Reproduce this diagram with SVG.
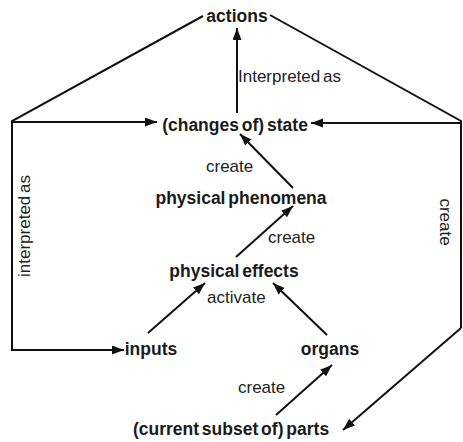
<svg xmlns="http://www.w3.org/2000/svg" width="463" height="442" viewBox="0 0 463 442">
  <defs>
    <marker id="arrow" markerUnits="userSpaceOnUse" markerWidth="13" markerHeight="10" refX="12" refY="4.5" orient="auto">
      <path d="M0,0 L12,4.5 L0,9 z" fill="#111"/>
    </marker>
    <style>
      .node { font-family: "Liberation Sans", Arial, sans-serif; font-weight: bold; font-size: 17.5px; fill: #1a1a1a; text-anchor: middle; word-spacing: -2px; }
      .label { font-family: "Liberation Sans", Arial, sans-serif; font-size: 17px; fill: #222; word-spacing: -2px; }
      .edge { fill: none; stroke: #111; stroke-width: 2; stroke-linejoin: miter; }
      .arrow { marker-end: url(#arrow); }
    </style>
  </defs>
  <rect width="463" height="442" fill="#fff"/>

  <g id="connectors">
    <!-- outer frame, left side -->
    <path class="edge" d="M203,16 L12,121 L12,350 L113,350"/>
    <path class="edge arrow" d="M12,350 L124,350"/>
    <path class="edge arrow" d="M12,122 L157,122"/>
    <!-- outer frame, right side -->
    <path class="edge" d="M270,15 L461,121 L461,328"/>
    <path class="edge arrow" d="M461,328 L343,430"/>
    <path class="edge arrow" d="M461,123 L311,123"/>
    <!-- inner chain -->
    <path class="edge arrow" d="M237,113 L237,28"/>
    <path class="edge arrow" d="M293,188 L240,134"/>
    <path class="edge arrow" d="M236,257 L293,206"/>
    <path class="edge arrow" d="M148,333 L205,283"/>
    <path class="edge arrow" d="M327,335 L273,283"/>
    <path class="edge arrow" d="M276,415 L332,365"/>
    <!-- connector labels -->
    <text class="label" x="238" y="82">Interpreted as</text>
    <text class="label" x="206" y="171.5">create</text>
    <text class="label" x="268" y="242.5">create</text>
    <text class="label" x="207" y="303">activate</text>
    <text class="label" x="238" y="393">create</text>
    <text class="label" text-anchor="middle" transform="translate(30,226) rotate(-90)">interpreted as</text>
    <text class="label" text-anchor="middle" transform="translate(440,222) rotate(90)">create</text>
  </g>

  <g id="actions"><text class="node" x="237" y="22">actions</text></g>
  <g id="state"><text class="node" x="235" y="131">(changes of) state</text></g>
  <g id="phenomena"><text class="node" x="241" y="204">physical phenomena</text></g>
  <g id="effects"><text class="node" x="234" y="276.5">physical effects</text></g>
  <g id="inputs"><text class="node" x="151" y="355">inputs</text></g>
  <g id="organs"><text class="node" x="330" y="355">organs</text></g>
  <g id="parts"><text class="node" x="231" y="435">(current subset of) parts</text></g>
</svg>
